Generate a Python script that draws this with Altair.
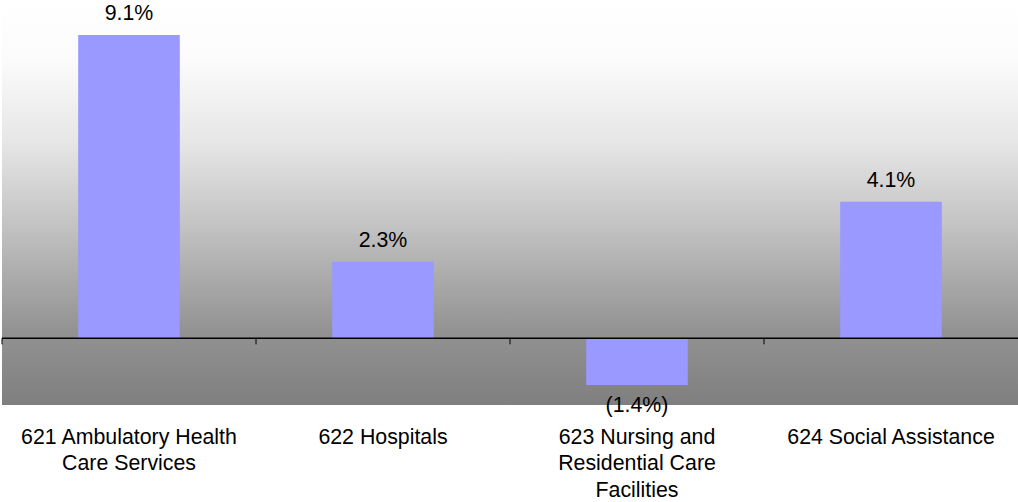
import altair as alt
import pandas as pd

# Growth by health-care subsector (percent)
categories = [
    "621 Ambulatory Health|Care Services",
    "622 Hospitals",
    "623 Nursing and|Residential Care|Facilities",
    "624 Social Assistance",
]
growth = [9.1, 2.3, -1.4, 4.1]

W, H = 1016, 405
FONT = "Liberation Sans"
FS = 21.33
PAD_INNER, PAD_OUTER = 0.6, 0.3
STEP = W / (len(categories) - PAD_INNER + 2 * PAD_OUTER)

df = pd.DataFrame({"cat": categories, "v": growth})

x_scale = alt.Scale(domain=categories, paddingInner=PAD_INNER, paddingOuter=PAD_OUTER)
y_scale = alt.Scale(domain=[-2.0, 10.15], nice=False, zero=False)

base = alt.Chart(df)

# plot-area gradient, white at the top fading to mid grey
background = alt.Chart(alt.Data(values=[{}])).mark_rect(
    fill=alt.LinearGradient(
        gradient="linear",
        x1=0, x2=0, y1=0, y2=1,
        stops=[
            alt.GradientStop(offset=0.0, color="#ffffff"),
            alt.GradientStop(offset=0.15, color="#fbfbfb"),
            alt.GradientStop(offset=0.35, color="#e6e6e6"),
            alt.GradientStop(offset=0.55, color="#c4c4c4"),
            alt.GradientStop(offset=0.7, color="#a8a8a8"),
            alt.GradientStop(offset=0.82, color="#929292"),
            alt.GradientStop(offset=1.0, color="#7f7f7f"),
        ],
    )
).encode(
    x=alt.value(0), x2=alt.value(W), y=alt.value(0), y2=alt.value(H)
)

bars = base.mark_bar(color="#9999FF").encode(
    x=alt.X(
        "cat:N",
        scale=x_scale,
        sort=categories,
        axis=alt.Axis(
            title=None,
            domain=False,
            ticks=False,
            tickSize=0,
            labelAngle=0,
            labelExpr="split(datum.label, '|')",
            labelFont=FONT,
            labelFontSize=FS,
            labelColor="#000000",
            labelPadding=21,
            labelLineHeight=26.5,
            labelLimit=0,
            labelBaseline="top",
        ),
    ),
    y=alt.Y("v:Q", scale=y_scale, axis=None),
)

zero_line = alt.Chart(alt.Data(values=[{}])).mark_rule(
    color="#000000", strokeWidth=1.5
).encode(x=alt.value(0), x2=alt.value(W), y=alt.Y(datum=0, scale=y_scale))

# category boundary ticks hanging below the zero line
ticks = base.mark_rule(
    color="#000000", strokeWidth=1, y2Offset=6, xOffset=-STEP * PAD_INNER / 2
).encode(
    x=alt.X("cat:N", scale=x_scale, sort=categories, bandPosition=0),
    y=alt.Y(datum=0, scale=y_scale),
    y2=alt.Y2(datum=0),
)

fmt = "datum.v < 0 ? '(' + format(-datum.v, '.1f') + '%)' : format(datum.v, '.1f') + '%'"

labels_pos = base.transform_filter("datum.v >= 0").transform_calculate(
    lbl=fmt
).mark_text(font=FONT, fontSize=FS, color="#000000", baseline="middle", dy=-21).encode(
    x=alt.X("cat:N", scale=x_scale, sort=categories),
    y=alt.Y("v:Q", scale=y_scale),
    text="lbl:N",
)

labels_neg = base.transform_filter("datum.v < 0").transform_calculate(
    lbl=fmt
).mark_text(font=FONT, fontSize=FS, color="#000000", baseline="middle", dy=21).encode(
    x=alt.X("cat:N", scale=x_scale, sort=categories),
    y=alt.Y("v:Q", scale=y_scale),
    text="lbl:N",
)

chart = (
    alt.layer(background, bars, zero_line, ticks, labels_pos, labels_neg)
    .properties(
        width=W,
        height=H,
        padding={"left": 2, "top": 0, "right": 0, "bottom": 97},
        autosize=alt.AutoSizeParams(type="none"),
        background="#ffffff",
    )
    .configure_view(strokeWidth=0)
)

chart.save("out.html", embed_options={"renderer": "svg", "actions": False})
